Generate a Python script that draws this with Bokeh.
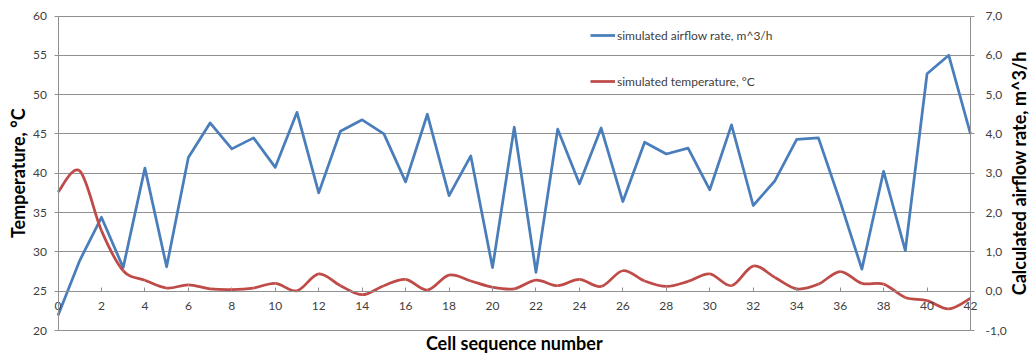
import math
from bokeh.plotting import figure
from bokeh.models import (Range1d, LinearAxis, FixedTicker, CustomJSTickFormatter,
                          Legend, LegendItem, Label)
from bokeh.embed import file_html
from bokeh.resources import INLINE

# ---------------- data ----------------
cells = list(range(43))
airflow = [-0.62, 0.78, 1.88, 0.60, 3.13, 0.62, 3.40, 4.28, 3.62, 3.90,
           3.15, 4.55, 2.50, 4.07, 4.36, 4.00, 2.78, 4.50, 2.43, 3.44,
           0.60, 4.17, 0.48, 4.12, 2.73, 4.15, 2.28, 3.79, 3.49, 3.64,
           2.58, 4.23, 2.18, 2.81, 3.86, 3.90, 2.28, 0.56, 3.05, 1.03,
           5.53, 6.00, 4.00]
temperature = [37.6, 40.3, 32.7, 27.6, 26.4, 25.4, 25.8, 25.3, 25.2, 25.4,
               26.0, 25.05, 27.2, 25.7, 24.55, 25.7, 26.5, 25.15, 27.05, 26.3,
               25.5, 25.3, 26.4, 25.7, 26.5, 25.6, 27.6, 26.3, 25.6, 26.25,
               27.2, 25.7, 28.2, 26.75, 25.3, 25.9, 27.5, 26.0, 25.9, 24.2,
               23.8, 22.75, 24.1]
x_ticks = list(range(0, 43, 2))
temp_ticks = [20, 25, 30, 35, 40, 45, 50, 55, 60]
flow_ticks = [-1, 0, 1, 2, 3, 4, 5, 6, 7]
x_axis_at_temp = 25

airflow_label = "simulated airflow rate, m^3/h"
temp_label = "simulated temperature, \u00b0C"
left_title = "Temperature, \u00b0C"
right_title = "Calculated airflow rate, m^3/h"
x_title = "Cell sequence number"

FONT = "Lato"
BLUE = "#4a7ebb"
RED = "#be4b48"
GRID = "#909090"
TXT = "#404040"

# ---------------- layout (pixels) ----------------
W, H = 1030, 353
PL, PR, PT, PB = 57.5, 970.0, 15.5, 330.0      # plot area inside the canvas
x0d, x1d = cells[0], cells[-1]
t0d, t1d = temp_ticks[0], temp_ticks[-1]
f0d, f1d = flow_ticks[0], flow_ticks[-1]
xs = (x1d - x0d) / (PR - PL)
ts = (t1d - t0d) / (PB - PT)
fs = (f1d - f0d) / (PB - PT)
x_range = Range1d(x0d - PL * xs, x1d + (W - PR) * xs)
y_range = Range1d(t0d - (H - PB) * ts, t1d + PT * ts)
f_range = Range1d(f0d - (H - PB) * fs, f1d + PT * fs)

p = figure(width=W, height=H, output_backend="svg", toolbar_location=None,
           x_range=x_range, y_range=y_range,
           min_border_left=0, min_border_right=0, min_border_top=0, min_border_bottom=0)
p.title.visible = False
p.outline_line_color = None
p.background_fill_color = "white"
p.border_fill_color = "white"
p.xgrid.visible = False

# left axis at cell 0
ya = p.yaxis[0]
ya.fixed_location = x0d
ya.bounds = (t0d, t1d)
ya.ticker = FixedTicker(ticks=temp_ticks)
ya.axis_line_color = GRID
ya.major_tick_line_color = GRID
ya.major_tick_out = 4
ya.major_tick_in = 0
ya.minor_tick_line_color = None
ya.major_label_standoff = 7
ya.major_label_text_font = FONT
ya.major_label_text_font_size = "12px"
ya.major_label_text_color = TXT

# horizontal gridlines limited to the plot area
grid_ok = True
try:
    p.ygrid.cross_bounds = (x0d, x1d)
except Exception:
    grid_ok = False
if grid_ok:
    p.ygrid.ticker = FixedTicker(ticks=temp_ticks)
    p.ygrid.grid_line_color = GRID
    p.ygrid.grid_line_width = 1
else:
    p.ygrid.visible = False
    ya.major_tick_in = int(round(PR - PL))

# bottom axis crossing at temperature 25 (airflow 0)
xa = p.xaxis[0]
xa.fixed_location = x_axis_at_temp
xa.bounds = (x0d, x1d)
xa.ticker = FixedTicker(ticks=x_ticks)
xa.axis_line_color = GRID
xa.major_tick_line_color = GRID
xa.major_tick_in = 4
xa.major_tick_out = 0
xa.minor_tick_line_color = None
xa.major_label_standoff = 11
xa.major_label_text_font = FONT
xa.major_label_text_font_size = "12px"
xa.major_label_text_color = TXT

# right axis at cell 42
p.extra_y_ranges = {"flow": f_range}
ra = LinearAxis(y_range_name="flow", ticker=FixedTicker(ticks=flow_ticks),
                formatter=CustomJSTickFormatter(code="return tick.toFixed(1).replace('.', ',')"))
ra.fixed_location = x1d
ra.bounds = (f0d, f1d)
ra.axis_line_color = GRID
ra.major_tick_line_color = GRID
ra.major_tick_out = 4
ra.major_tick_in = 0
ra.minor_tick_line_color = None
ra.major_label_standoff = 11
ra.major_label_text_font = FONT
ra.major_label_text_font_size = "12px"
ra.major_label_text_color = TXT
p.add_layout(ra, "right")

# airflow (right axis)
blue_r = p.line(cells, airflow, y_range_name="flow", line_color=BLUE, line_width=2.75,
                line_join="round")

# temperature smoothed (Catmull-Rom bezier through the data points)
n = len(cells)
bx0, by0, bx1, by1, cx0, cy0, cx1, cy1 = [], [], [], [], [], [], [], []
for i in range(n - 1):
    xm, ym = (cells[i - 1], temperature[i - 1]) if i > 0 else (cells[i], temperature[i])
    xp2, yp2 = (cells[i + 2], temperature[i + 2]) if i + 2 < n else (cells[i + 1], temperature[i + 1])
    xa_, ya_ = cells[i], temperature[i]
    xb, yb = cells[i + 1], temperature[i + 1]
    bx0.append(xa_); by0.append(ya_); bx1.append(xb); by1.append(yb)
    cx0.append(xa_ + (xb - xm) / 6.0); cy0.append(ya_ + (yb - ym) / 6.0)
    cx1.append(xb - (xp2 - xa_) / 6.0); cy1.append(yb - (yp2 - ya_) / 6.0)
red_r = p.bezier(x0=bx0, y0=by0, x1=bx1, y1=by1, cx0=cx0, cy0=cy0, cx1=cx1, cy1=cy1,
                 line_color=RED, line_width=2.75)

legend = Legend(items=[LegendItem(label=airflow_label, renderers=[blue_r]),
                       LegendItem(label=temp_label, renderers=[red_r], index=0)],
                location=(590, 262), orientation="vertical",
                glyph_width=25, glyph_height=20, label_height=20, spacing=26,
                padding=0, margin=0, border_line_color=None, background_fill_alpha=0,
                label_standoff=2, label_text_font=FONT, label_text_font_size="12px",
                label_text_color=TXT)
p.add_layout(legend)

# axis titles
mid_t = (t0d + t1d) / 2.0
mid_x = (x0d + x1d) / 2.0
p.add_layout(Label(x=x0d, y=mid_t, x_offset=-40, text=left_title, angle=math.pi / 2,
                   text_align="center", text_baseline="middle", text_font=FONT,
                   text_font_size="18px", text_font_style="bold", text_color="black"))
p.add_layout(Label(x=x1d, y=mid_t, x_offset=48, text=right_title, angle=math.pi / 2,
                   text_align="center", text_baseline="middle", text_font=FONT,
                   text_font_size="18px", text_font_style="bold", text_color="black"))
p.add_layout(Label(x=mid_x, y=t0d, y_offset=-12, text=x_title,
                   text_align="center", text_baseline="middle", text_font=FONT,
                   text_font_size="18px", text_font_style="bold", text_color="black"))

open("out.html", "w").write(file_html(p, INLINE))
